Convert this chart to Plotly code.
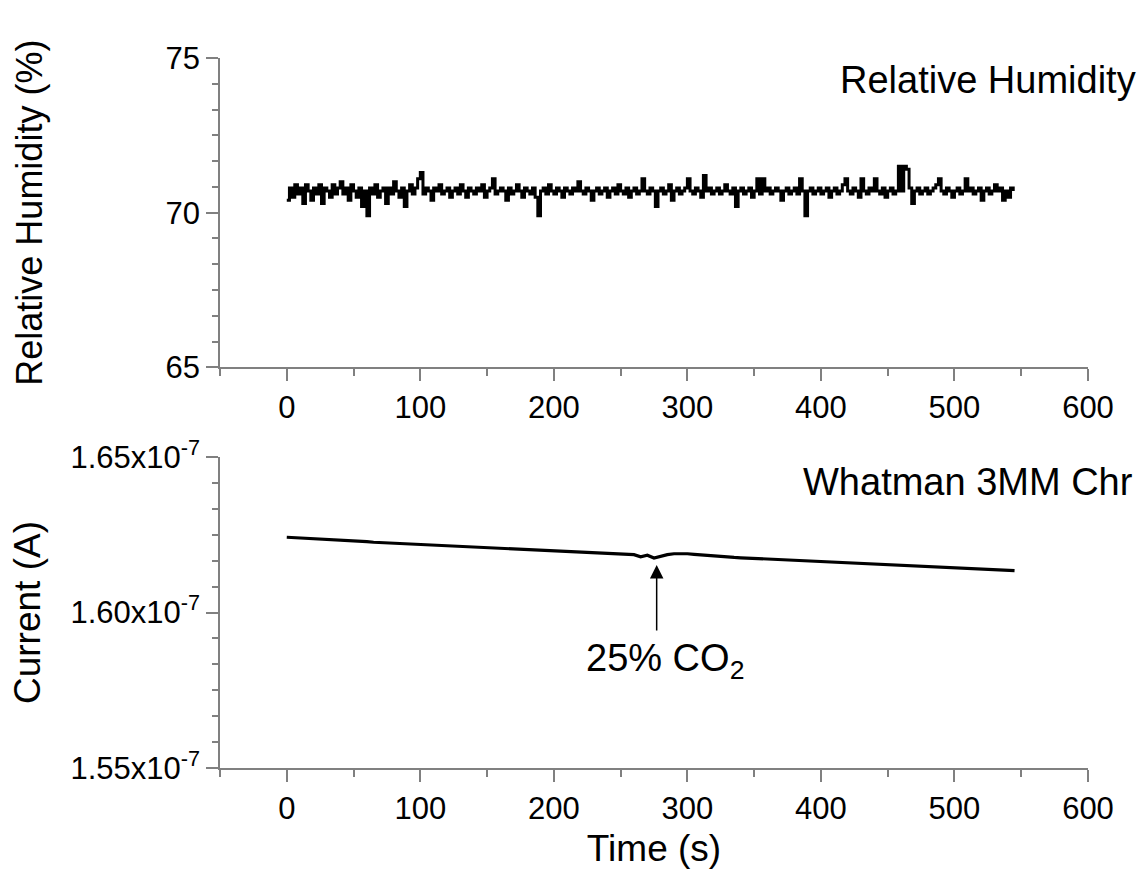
import plotly.graph_objects as go
from plotly.subplots import make_subplots

# ---------------- data ----------------
# Relative humidity, sampled every 2 s (0 .. 544 s)
rh_time = list(range(0, 545, 2))
rh_values = [
    70.4, 70.8, 70.5, 70.9, 70.6, 70.8, 70.3, 70.9, 70.7, 70.4,
    70.8, 70.6, 70.9, 70.3, 70.8, 70.7, 70.5, 70.9, 70.6, 70.8,
    71.0, 70.6, 70.8, 70.4, 70.9, 70.7, 70.5, 70.8, 70.2, 70.7,
    69.9, 70.8, 70.6, 70.9, 70.5, 70.7, 70.8, 70.3, 70.8, 70.6,
    71.0, 70.7, 70.5, 70.8, 70.2, 70.7, 70.9, 70.6, 70.8, 71.1,
    71.3, 70.6, 70.8, 70.7, 70.4, 70.8, 70.7, 70.9, 70.6, 70.7,
    70.8, 70.5, 70.7, 70.8, 70.6, 70.9, 70.7, 70.5, 70.8, 70.7,
    70.6, 70.8, 70.7, 70.9, 70.5, 70.7, 70.8, 71.1, 70.6, 70.7,
    70.8, 70.7, 70.4, 70.8, 70.6, 70.7, 70.9, 70.7, 70.5, 70.8,
    70.7, 70.6, 70.8, 70.5, 69.9, 70.7, 70.8, 70.6, 70.9, 70.7,
    70.6, 70.8, 70.7, 70.5, 70.8, 70.7, 70.6, 70.8, 70.7, 71.0,
    70.7, 70.6, 70.8, 70.7, 70.4, 70.7, 70.8, 70.6, 70.7, 70.8,
    70.5, 70.7, 70.8, 70.6, 70.9, 70.7, 70.6, 70.8, 70.5, 70.7,
    70.8, 70.6, 70.7, 71.1, 70.7, 70.6, 70.8, 70.7, 70.2, 70.7,
    70.8, 70.6, 70.7, 70.9, 70.4, 70.7, 70.8, 70.6, 70.7, 70.8,
    71.1, 70.7, 70.6, 70.8, 70.7, 70.5, 71.2, 70.7, 70.8, 70.6,
    70.7, 70.8, 70.6, 70.7, 70.9, 70.7, 70.6, 70.8, 70.2, 70.7,
    70.8, 70.6, 70.7, 70.8, 70.5, 70.7, 71.1, 70.6, 71.1, 70.7,
    70.8, 70.6, 70.7, 70.8, 70.7, 70.4, 70.7, 70.8, 70.6, 70.7,
    70.8, 70.6, 71.1, 70.7, 69.9, 70.7, 70.8, 70.6, 70.7, 70.8,
    70.6, 70.7, 70.8, 70.5, 70.7, 70.8, 70.6, 70.7, 70.9, 71.1,
    70.7, 70.6, 70.8, 70.7, 70.5, 71.1, 70.7, 70.6, 70.8, 70.7,
    71.1, 70.7, 70.6, 70.8, 70.5, 70.7, 70.8, 70.6, 70.7, 71.5,
    70.7, 71.5, 71.4, 70.8, 70.3, 70.7, 70.8, 70.6, 70.7, 70.8,
    70.6, 70.7, 70.8, 70.9, 71.1, 70.7, 70.6, 70.8, 70.7, 70.5,
    70.7, 70.8, 70.6, 70.7, 71.1, 70.7, 70.8, 70.6, 70.7, 70.8,
    70.4, 70.7, 70.8, 70.6, 70.7, 70.9, 70.7, 70.8, 70.4, 70.7,
    70.5, 70.8, 70.7,
]

# Current (in units of 1e-7 A), sampled every 5 s (0 .. 545 s)
cur_time = list(range(0, 550, 5))
current_e7 = [
    1.6242, 1.6241, 1.6240, 1.6238, 1.6237, 1.6236, 1.6235, 1.6234, 1.6232, 1.6231,
    1.6230, 1.6229, 1.6228, 1.6226, 1.6225, 1.6224, 1.6223, 1.6222, 1.6221, 1.6220,
    1.6218, 1.6217, 1.6216, 1.6215, 1.6214, 1.6213, 1.6212, 1.6211, 1.6210, 1.6209,
    1.6208, 1.6207, 1.6206, 1.6205, 1.6204, 1.6203, 1.6202, 1.6201, 1.6200, 1.6199,
    1.6198, 1.6197, 1.6196, 1.6195, 1.6194, 1.6193, 1.6192, 1.6191, 1.6190, 1.6189,
    1.6188, 1.6187, 1.6186, 1.6179, 1.6184, 1.6175, 1.6181, 1.6186, 1.6189, 1.6190,
    1.6189, 1.6187, 1.6185, 1.6183, 1.6181, 1.6180, 1.6178, 1.6177, 1.6176, 1.6175,
    1.6174, 1.6173, 1.6172, 1.6171, 1.6170, 1.6169, 1.6168, 1.6167, 1.6166, 1.6165,
    1.6164, 1.6163, 1.6162, 1.6161, 1.6160, 1.6159, 1.6158, 1.6157, 1.6156, 1.6155,
    1.6154, 1.6153, 1.6152, 1.6151, 1.6150, 1.6149, 1.6148, 1.6147, 1.6146, 1.6145,
    1.6144, 1.6143, 1.6142, 1.6141, 1.6140, 1.6139, 1.6138, 1.6137, 1.6136, 1.6135,
]

x_ticks = [0, 100, 200, 300, 400, 500, 600]
rh_ticks = [65, 70, 75]
cur_tick_vals = [1.55e-7, 1.60e-7, 1.65e-7]
cur_tick_text = ["1.55x10<sup>-7</sup>", "1.60x10<sup>-7</sup>", "1.65x10<sup>-7</sup>"]

event_time = 277
event_label = "25% CO<sub>2</sub>"

# ---------------- figure ----------------
FONT = "Liberation Sans, Arial, Helvetica, sans-serif"
AXIS_COL = "#808080"

fig = make_subplots(rows=2, cols=1, shared_xaxes=False, vertical_spacing=0.1)

fig.add_trace(go.Scatter(x=rh_time, y=rh_values, mode="lines",
                         line=dict(color="black", width=3, shape="hv"), showlegend=False),
              row=1, col=1)
fig.add_trace(go.Scatter(x=cur_time, y=[v * 1e-7 for v in current_e7], mode="lines",
                         line=dict(color="black", width=3.2), showlegend=False),
              row=2, col=1)

xaxis_common = dict(
    range=[-50, 600], tickvals=x_ticks, ticks="outside", ticklen=12, tickwidth=1.5,
    tickcolor=AXIS_COL, showline=True, linecolor=AXIS_COL, linewidth=1.5,
    showgrid=False, zeroline=False, tickfont=dict(size=31, color="black", family=FONT),
    minor=dict(tickvals=[-50, 50, 150, 250, 350, 450, 550], ticks="outside", ticklen=7,
               tickwidth=1.5, tickcolor=AXIS_COL, showgrid=False),
    automargin=False,
)

fig.update_layout(
    width=1141, height=878,
    margin=dict(l=220, r=53, t=58, b=110),
    paper_bgcolor="white", plot_bgcolor="white",
    font=dict(family=FONT, color="black"),
    xaxis=dict(**xaxis_common, domain=[0, 1], anchor="y"),
    xaxis2=dict(**xaxis_common, domain=[0, 1], anchor="y2",
                title=dict(text="Time (s)", font=dict(size=37, family=FONT, color="black"),
                           standoff=10)),
    yaxis=dict(
        domain=[0.5643, 1.0], range=[65, 75], tickvals=rh_ticks, ticks="outside",
        ticklen=12, tickwidth=1.5, tickcolor=AXIS_COL, showline=True, linecolor=AXIS_COL,
        linewidth=1.5, showgrid=False, zeroline=False,
        tickfont=dict(size=31, color="black", family=FONT),
        minor=dict(dtick=5 / 6, tick0=65, ticks="outside", ticklen=6, tickwidth=1.5,
                   tickcolor=AXIS_COL, showgrid=False),
        title=dict(text="Relative Humidity (%)", font=dict(size=36, family=FONT, color="black"),
                   standoff=112),
        automargin=False,
    ),
    yaxis2=dict(
        domain=[0.0, 0.438], range=[1.55e-7, 1.65e-7], tickvals=cur_tick_vals,
        ticktext=cur_tick_text, ticks="outside",
        ticklen=12, tickwidth=1.5, tickcolor=AXIS_COL, showline=True, linecolor=AXIS_COL,
        linewidth=1.5, showgrid=False, zeroline=False,
        tickfont=dict(size=31, color="black", family=FONT),
        minor=dict(dtick=0.05e-7 / 6, tick0=1.55e-7, ticks="outside", ticklen=6, tickwidth=1.5,
                   tickcolor=AXIS_COL, showgrid=False),
        title=dict(text="Current (A)", font=dict(size=37, family=FONT, color="black"),
                   standoff=18),
        automargin=False,
    ),
)

annotations = [
    dict(text="Relative Humidity", xref="paper", yref="paper", x=1.058, y=0.9694,
         xanchor="right", yanchor="middle", showarrow=False,
         font=dict(size=38, family=FONT, color="black")),
    dict(text="Whatman 3MM Chr", xref="paper", yref="paper", x=1.0545, y=0.4032,
         xanchor="right", yanchor="middle", showarrow=False,
         font=dict(size=38, family=FONT, color="black")),
    dict(text="", x=event_time, y=1.6153e-7, xref="x2", yref="y2",
         ax=event_time, ay=1.5937e-7, axref="x2", ayref="y2",
         showarrow=True, arrowhead=2, arrowsize=1.8, arrowwidth=1.5, arrowcolor="black",
         standoff=0, startstandoff=0),
    dict(text=event_label, x=event_time + 6, y=1.5843e-7, xref="x2", yref="y2",
         xanchor="center", yanchor="middle", showarrow=False,
         font=dict(size=38, family=FONT, color="black")),
]
fig.update_layout(annotations=annotations)

fig.write_html("out.html")
